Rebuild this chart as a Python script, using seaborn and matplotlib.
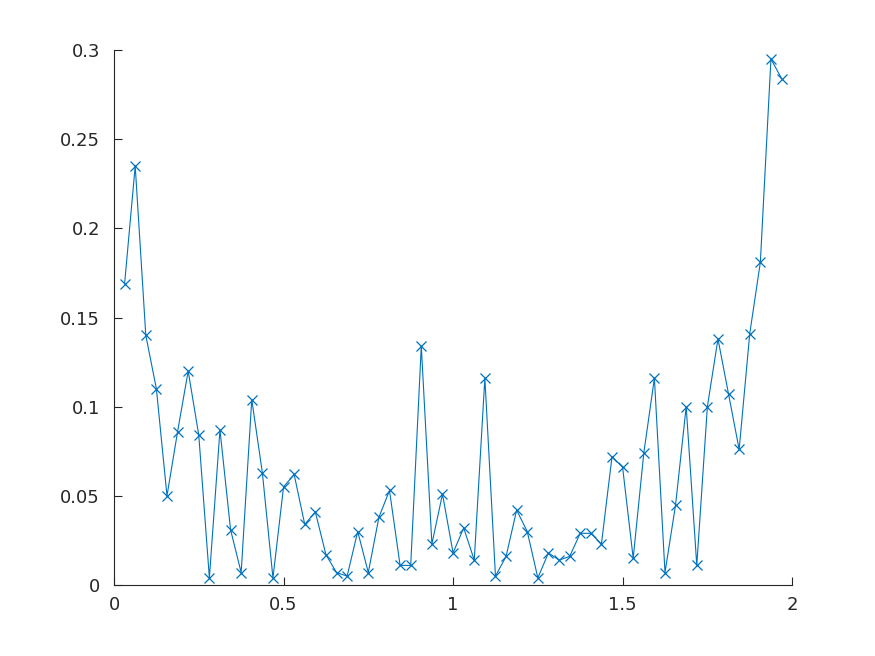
import numpy as np
import pandas as pd
import matplotlib
matplotlib.use("Agg")
import matplotlib.pyplot as plt
import seaborn as sns

x_vals = [k / 32 for k in range(1, 64)]
y_vals = [0.169, 0.235, 0.140, 0.110, 0.050, 0.086, 0.120, 0.084, 0.004, 0.087,
          0.031, 0.007, 0.104, 0.063, 0.004, 0.055, 0.062, 0.034, 0.041, 0.017,
          0.007, 0.005, 0.030, 0.007, 0.038, 0.053, 0.011, 0.011, 0.134, 0.023,
          0.051, 0.018, 0.032, 0.014, 0.116, 0.005, 0.016, 0.042, 0.030, 0.004,
          0.018, 0.014, 0.016, 0.029, 0.029, 0.023, 0.072, 0.066, 0.015, 0.074,
          0.116, 0.007, 0.045, 0.100, 0.011, 0.100, 0.138, 0.107, 0.076, 0.141,
          0.181, 0.295, 0.284]
x_ticks = [0, 0.5, 1, 1.5, 2]
x_tick_labels = ["0", "0.5", "1", "1.5", "2"]
y_ticks = [0, 0.05, 0.1, 0.15, 0.2, 0.25, 0.3]
y_tick_labels = ["0", "0.05", "0.1", "0.15", "0.2", "0.25", "0.3"]

df = pd.DataFrame({"x": x_vals, "y": y_vals})

sns.set_style("ticks")
plt.rcParams["font.family"] = ["DejaVu Sans"]

fig = plt.figure(figsize=(8.75, 6.56), dpi=100)
ax = fig.add_axes([0.1303, 0.1082, 0.775, 0.8156])

sns.lineplot(data=df, x="x", y="y", ax=ax, color="#0072BD", linewidth=0.8,
             marker="x", markersize=7, markeredgewidth=0.9,
             markeredgecolor="#0072BD")

ax.set_xlim(0, 2)
ax.set_ylim(0, 0.3)
ax.set_xticks(x_ticks)
ax.set_xticklabels(x_tick_labels)
ax.set_yticks(y_ticks)
ax.set_yticklabels(y_tick_labels)
ax.set_xlabel("")
ax.set_ylabel("")

dark = "#262626"
for s in ["left", "bottom"]:
    ax.spines[s].set_color(dark)
    ax.spines[s].set_linewidth(0.8)
for s in ["top", "right"]:
    ax.spines[s].set_visible(False)
ax.tick_params(direction="in", length=6, width=0.8, colors=dark,
               labelsize=13, pad=8)
ax.tick_params(axis="y", pad=10)
ax.grid(False)

fig.savefig("out.png", dpi=100, facecolor="white")
